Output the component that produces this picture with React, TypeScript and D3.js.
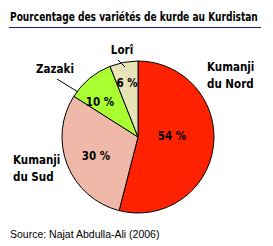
import React, { useLayoutEffect, useRef, useState } from "react";
import * as d3 from "d3";

const categories = ["Kumanji du Nord", "Kumanji du Sud", "Zazaki", "Lorî"];
const values = [54, 30, 10, 6];
const colors = ["#ff2200", "#f0b8a8", "#aaff33", "#e8e4b8"];
const title = "Pourcentage des variétés de kurde au Kurdistan";
const source = "Source: Najat Abdulla-Ali (2006)";

const W = 273, H = 246;
const cx = 138, cy = 137, R = 76;
const FONT = "'DejaVu Sans Condensed', 'Liberation Sans Narrow', sans-serif";

// label layout (positions relative to centre)
const pctPos = [[34, 3], [-42, 23], [-38, -31], [-11, -50]];
const namePos: [number, number, string][] = [
  [69, -66, "start"], [-125, 27, "start"], [-64, -64, "end"], [-16, -83, "middle"],
];

export default function App() {
  const pie = d3.pie<number>().sort(null).value((d) => d)(values);
  const arc = d3.arc<d3.PieArcDatum<number>>().innerRadius(0).outerRadius(R);
  const nameLines = [["Kumanji", "du Nord"], ["Kumanji", "du Sud"], ["Zazaki"], ["Lorî"]];
  const titleRef = useRef<SVGTextElement>(null);
  const [sx, setSx] = useState(1);
  useLayoutEffect(() => {
    if (titleRef.current) {
      const w = titleRef.current.getComputedTextLength();
      if (w > 0) setSx(248 / w);
    }
  }, []);
  return (
    <svg width={W} height={H} style={{ position: "fixed", left: 0, top: 0, background: "#fff" }}>
      <g transform={`translate(10,21) scale(${sx},1)`}>
        <text ref={titleRef} x={0} y={0} fontFamily={FONT} fontWeight="bold" fontSize={12.5} fill="#000">{title}</text>
      </g>
      <line x1={9} x2={261} y1={27.5} y2={27.5} stroke="#1a1a6e" strokeWidth={1} />
      <g transform={`translate(${cx},${cy})`}>
        {pie.map((p, i) => (
          <path key={categories[i]} d={arc(p) || ""} fill={colors[i]} stroke="#000" strokeWidth={1} />
        ))}
        {values.map((v, i) => (
          <text key={"p" + i} x={pctPos[i][0]} y={pctPos[i][1]} textAnchor="middle"
            fontFamily={FONT} fontWeight="bold" fontSize={11.5} fill="#000">{v} %</text>
        ))}
        {nameLines.map((lines, i) => (
          <text key={"n" + i} x={namePos[i][0]} y={namePos[i][1]} textAnchor={namePos[i][2] as any}
            fontFamily={FONT} fontWeight="bold" fontSize={11.5} fill="#000">
            {lines.map((l, j) => (
              <tspan key={j} x={namePos[i][0]} dy={j === 0 ? 0 : 17}>{l}</tspan>
            ))}
          </text>
        ))}
        <line x1={-81} y1={-58} x2={-60} y2={-45} stroke="#000" strokeWidth={1} />
        <line x1={-20} y1={-77} x2={-13} y2={-70} stroke="#000" strokeWidth={1} />
      </g>
      <text x={10} y={238} fontFamily="'Liberation Sans', Arial, sans-serif" fontSize={10.5} fill="#000">{source}</text>
    </svg>
  );
}
